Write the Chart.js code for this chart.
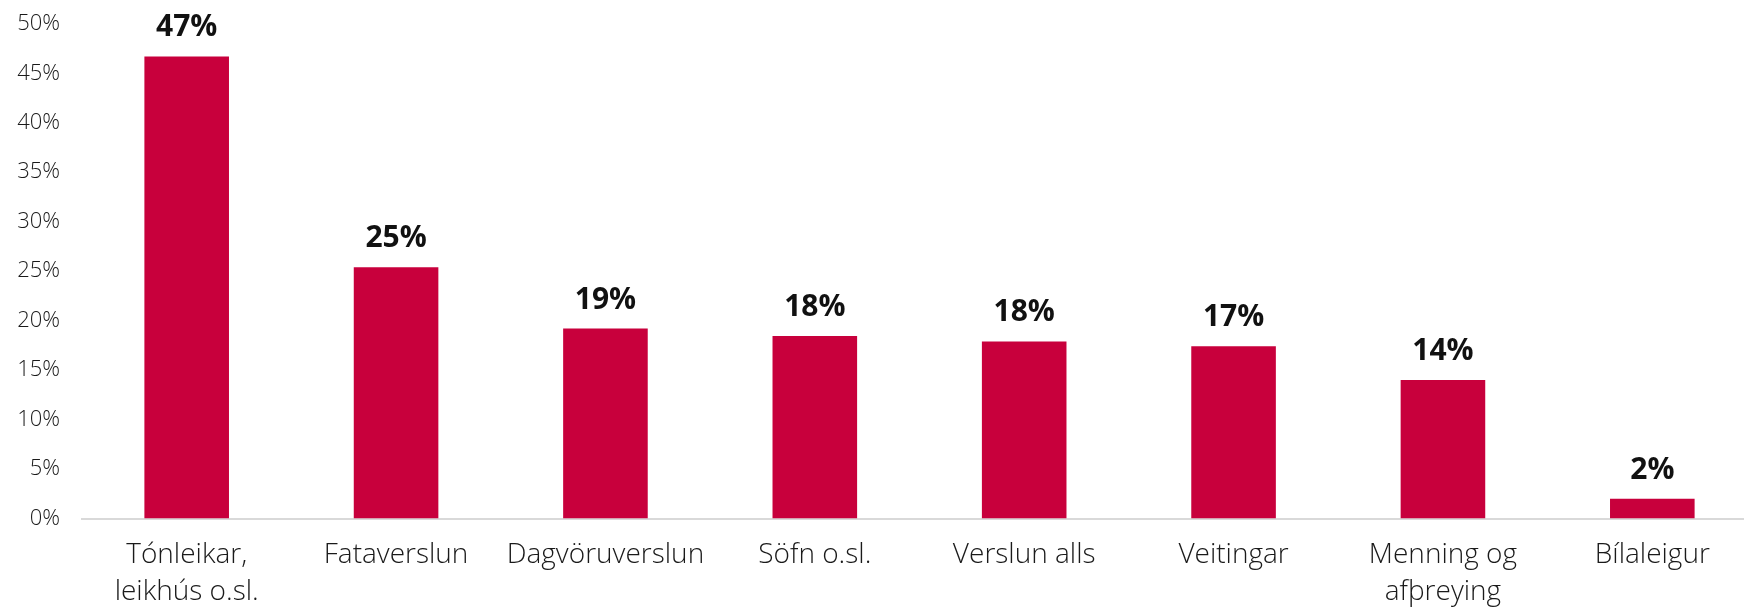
<!DOCTYPE html>
<html>
<head>
<meta charset="utf-8">
<script src="https://cdn.jsdelivr.net/npm/chart.js@4/dist/chart.umd.min.js"></script>
<style>
  html, body { margin: 0; padding: 0; overflow: hidden; background: #ffffff; }
  #wrap { position: relative; width: 1757px; height: 607px; }
</style>
</head>
<body>
<div id="wrap"><canvas id="c"></canvas></div>
<script>
const categories = [
  ['Tónleikar,', 'leikhús o.sl.'],
  'Fataverslun',
  'Dagvöruverslun',
  'Söfn o.sl.',
  'Verslun alls',
  'Veitingar',
  ['Menning og', 'afþreying'],
  'Bílaleigur'
];
const values = [46.7, 25.4, 19.2, 18.45, 17.9, 17.4, 14.0, 2.0];
const yTicks = [0, 5, 10, 15, 20, 25, 30, 35, 40, 45, 50];

const barColor = '#c8003c';

const valueLabelPlugin = {
  id: 'valueLabels',
  afterDatasetsDraw(chart) {
    const ctx = chart.ctx;
    const meta = chart.getDatasetMeta(0);
    ctx.save();
    ctx.font = "700 30px 'Open Sans'";
    ctx.fillStyle = '#111111';
    ctx.textAlign = 'center';
    ctx.textBaseline = 'alphabetic';
    meta.data.forEach((bar, i) => {
      ctx.fillText(Math.round(values[i]) + '%', bar.x, bar.y - 20);
    });
    ctx.restore();
  }
};

new Chart(document.getElementById('c'), {
  type: 'bar',
  data: {
    labels: categories,
    datasets: [{
      data: values,
      backgroundColor: barColor,
      borderWidth: 0,
      barPercentage: 0.404,
      categoryPercentage: 1.0
    }]
  },
  options: {
    responsive: true,
    maintainAspectRatio: false,
    animation: false,
    layout: { padding: { top: 23.8, left: 0, right: 0, bottom: 0 } },
    plugins: { legend: { display: false }, tooltip: { enabled: false } },
    scales: {
      x: {
        grid: { display: false, drawTicks: false },
        border: { display: true, color: '#d9d9d9', width: 2 },
        ticks: {
          color: '#1a1a1a',
          font: { family: "'Open Sans'", size: 28, weight: '300', lineHeight: 1.32 },
          padding: 18,
          maxRotation: 0,
          minRotation: 0,
          autoSkip: false
        },
        afterFit(scale) { scale.height = 88.5; }
      },
      y: {
        min: 0,
        max: 50,
        afterBuildTicks(scale) { scale.ticks = yTicks.map(v => ({ value: v })); },
        grid: { display: false, drawTicks: false },
        border: { display: false },
        ticks: {
          color: '#1a1a1a',
          font: { family: "'Open Sans'", size: 22, weight: '300' },
          padding: 22,
          callback: v => v + '%'
        },
        afterFit(scale) {
          scale.width = 82;
          scale.paddingTop = 0;
          scale.paddingBottom = 0;
        }
      }
    }
  },
  plugins: [valueLabelPlugin]
});
</script>
</body>
</html>
